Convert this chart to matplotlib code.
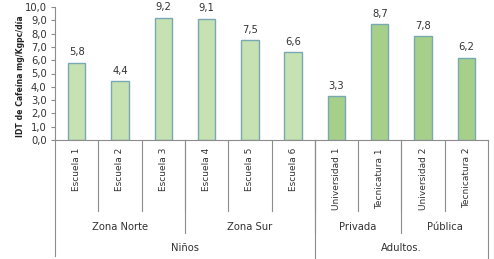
import matplotlib
matplotlib.use('Agg')
import matplotlib.pyplot as plt
import matplotlib.transforms as mtransforms

# data
categories = ["Escuela 1", "Escuela 2", "Escuela 3", "Escuela 4", "Escuela 5", "Escuela 6",
              "Universidad 1", "Tecnicatura 1", "Universidad 2", "Tecnicatura 2"]
values = [5.8, 4.4, 9.2, 9.1, 7.5, 6.6, 3.3, 8.7, 7.8, 6.2]
subgroups = ["Zona Norte", "Zona Sur", "Privada", "Pública"]
subgroup_sizes = [3, 3, 2, 2]
groups = ["Niños", "Adultos."]
group_sizes = [6, 4]
yticks = [0, 1, 2, 3, 4, 5, 6, 7, 8, 9, 10]

light = "#c6e2b2"
dark = "#a6d08a"
edge = "#78a8b4"
axcol = "#8c8c8c"
txt = "#333333"

fig = plt.figure(figsize=(4.94, 2.59), dpi=100)
ax = fig.add_axes([55 / 494, 119 / 259, 433 / 494, 133 / 259])

colors = [light] * group_sizes[0] + [dark] * group_sizes[1]
x = list(range(len(categories)))
ax.bar(x, values, width=0.4, color=colors, edgecolor=edge, linewidth=1.0)
for xi, v in zip(x, values):
    ax.annotate(f"{v:.1f}".replace(".", ","), (xi, v), xytext=(0, 4),
                textcoords="offset points", ha="center", va="bottom",
                fontsize=7.2, color=txt)

ax.set_xlim(-0.5, len(categories) - 0.5)
ax.set_ylim(0, 10)
ax.set_yticks(yticks)
ax.set_yticklabels([f"{t:.1f}".replace(".", ",") for t in yticks], fontsize=7.2, color=txt)
ax.set_xticks([])
for s in ["top", "right"]:
    ax.spines[s].set_visible(False)
ax.spines["left"].set_color(axcol)
ax.spines["bottom"].set_color(axcol)
ax.tick_params(axis="y", length=3, color=axcol, pad=3)

ax.set_ylabel("IDT de Cafeína mg/Kgpc/día", fontsize=5.6, fontweight="bold",
              color="#222222")
ax.yaxis.set_label_coords(-0.07, 0.48)

trans = mtransforms.blended_transform_factory(ax.transData, ax.transAxes)

# category labels
for xi, c in zip(x, categories):
    ax.text(xi, -0.06, c, rotation=90, ha="center", va="top", fontsize=6.5,
            color=txt, transform=trans)

# separators between categories
for b in range(1, len(categories)):
    ax.plot([b - 0.5, b - 0.5], [0, -0.535], color=axcol, lw=0.8,
            transform=trans, clip_on=False)

# subgroup labels and separators
start = 0
for name, n in zip(subgroups, subgroup_sizes):
    ax.text(start + n / 2 - 0.5, -0.655, name, ha="center", va="center",
            fontsize=7.2, color=txt, transform=trans)
    start += n
    if start < len(categories):
        ax.plot([start - 0.5, start - 0.5], [0, -0.70], color=axcol, lw=0.8,
                transform=trans, clip_on=False)

# group labels and separators
start = 0
for name, n in zip(groups, group_sizes):
    ax.text(start + n / 2 - 0.5, -0.81, name, ha="center", va="center",
            fontsize=7.2, color=txt, transform=trans)
    start += n
    ax.plot([start - 0.5, start - 0.5], [0, -0.89], color=axcol, lw=0.8,
            transform=trans, clip_on=False)
ax.plot([-0.5, -0.5], [0, -0.87], color=axcol, lw=0.8, transform=trans, clip_on=False)

fig.savefig("out.png", dpi=100)
